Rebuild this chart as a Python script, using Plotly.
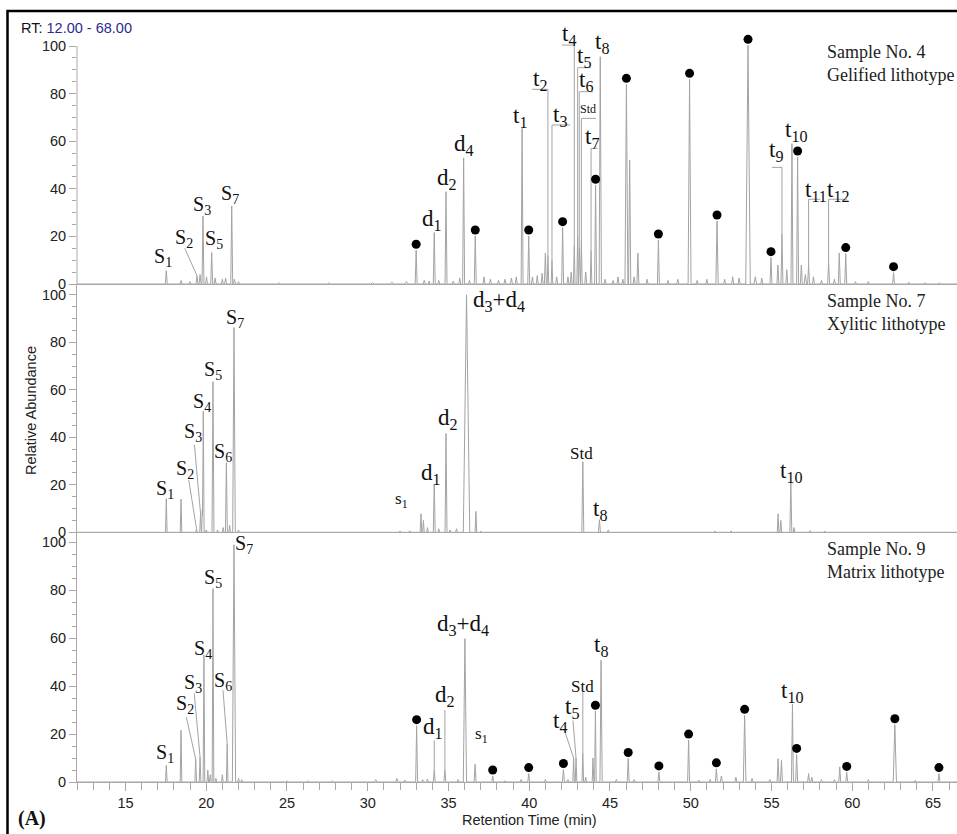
import numpy as np
import plotly.graph_objects as go

# ---------------- data (retention time [min], relative abundance, half-width [min]) -------------
s4_rt = [17.53, 18.45, 19.00, 19.43, 19.62, 19.80, 20.02, 20.34, 20.55, 21.00, 21.20, 21.58, 21.75, 22.00,
         24.50, 27.60, 30.30, 31.50, 32.40, 33.00, 33.50, 33.80, 34.12, 34.40, 34.85, 35.30, 35.70, 35.94,
         36.30, 36.66, 37.20, 37.60, 38.10, 38.50, 38.90, 39.20, 39.56, 39.97, 40.20, 40.50, 40.80, 41.00,
         41.16, 41.41, 41.70, 42.07, 42.40, 42.60, 42.79, 43.00, 43.10, 43.23, 43.50, 43.83, 44.11, 44.40,
         44.70, 45.20, 45.50, 45.80, 46.02, 46.22, 46.50, 46.73, 47.30, 48.00, 48.60, 49.20, 49.93, 50.40,
         51.00, 51.63, 52.10, 52.60, 53.00, 53.55, 54.00, 54.40, 54.97, 55.40, 55.65, 55.95, 56.27, 56.62,
         56.85, 57.10, 57.30, 57.60, 58.10, 58.54, 58.90, 59.20, 59.60, 60.20, 61.00, 62.56, 63.50, 64.50,
         65.40]
s4_h = [5.6, 1.5, 1.0, 3.5, 4.0, 28.6, 3.0, 13.2, 2.5, 2.0, 2.5, 32.8, 2.0, 1.0,
        0.5, 0.5, 0.6, 0.8, 1.0, 14.2, 1.5, 1.2, 21.6, 1.5, 38.8, 1.2, 2.5, 53.0,
        1.5, 20.2, 3.0, 2.0, 1.5, 2.0, 2.5, 3.0, 65.4, 20.2, 3.0, 3.5, 4.5, 13.0,
        12.0, 10.0, 3.0, 23.7, 3.0, 5.0, 16.0, 20.0, 15.0, 18.0, 5.0, 14.0, 41.5, 95.5,
        2.0, 1.5, 3.0, 2.0, 83.9, 52.0, 3.0, 13.0, 2.0, 18.5, 1.5, 2.0, 86.0, 1.5,
        2.0, 26.5, 2.0, 3.0, 2.5, 100.3, 3.0, 2.5, 11.1, 8.0, 21.0, 6.0, 59.0, 53.4,
        8.0, 4.0, 8.0, 3.0, 1.5, 9.0, 2.0, 13.0, 12.8, 1.0, 1.0, 4.8, 0.8, 0.5,
        0.5]
s4_w = [0.06] * 14 + [0.1] * 5 + [0.06] * 23 + [0.05, 0.05, 0.06, 0.06, 0.06, 0.06, 0.05, 0.05, 0.04,
        0.05, 0.06, 0.05, 0.06, 0.07, 0.06, 0.06, 0.06, 0.06, 0.09, 0.07, 0.06, 0.06, 0.06, 0.06,
        0.06, 0.06, 0.09, 0.06, 0.06, 0.07, 0.06, 0.06, 0.06, 0.14, 0.08] + [0.06] * 8 + [0.07] + [0.06] * 15
s4_dots = [33.00, 36.66, 39.97, 42.07, 44.11, 46.02, 48.00, 49.93, 51.63, 53.55, 54.97, 56.62, 59.60, 62.56]

s7_rt = [17.53, 18.44, 19.40, 19.65, 19.76, 19.82, 20.00, 20.42, 20.70, 21.05, 21.25, 21.45, 21.72, 22.00,
         32.00, 32.60, 33.30, 33.45, 33.70, 34.12, 34.40, 34.85, 35.10, 35.50, 36.12, 36.70, 37.00,
         43.32, 44.35, 44.90, 51.50, 52.50, 55.41, 55.58, 56.20, 56.40, 57.40, 58.30]
s7_h = [14.2, 14.0, 1.5, 8.0, 9.5, 51.0, 1.0, 63.4, 1.0, 2.0, 29.3, 3.0, 86.2, 1.0,
        0.5, 0.6, 7.8, 5.0, 2.0, 20.3, 1.5, 41.6, 1.0, 1.5, 100.0, 8.8, 0.5,
        29.7, 5.3, 1.0, 0.5, 0.5, 7.8, 5.0, 21.3, 2.0, 0.7, 0.5]
s7_w = [0.05, 0.05, 0.05, 0.05, 0.04, 0.05, 0.05, 0.06, 0.05, 0.05, 0.06, 0.05, 0.08, 0.05,
        0.08, 0.08, 0.05, 0.05, 0.05, 0.06, 0.06, 0.06, 0.06, 0.06, 0.20, 0.05, 0.05,
        0.06, 0.06, 0.06, 0.08, 0.08, 0.05, 0.05, 0.06, 0.05, 0.06, 0.06]
s7_dots = []

s9_rt = [17.53, 18.44, 19.35, 19.62, 19.86, 20.10, 20.25, 20.42, 20.60, 21.00, 21.30, 21.72, 22.00, 22.20,
         25.00, 26.30, 27.80, 30.50, 31.80, 32.30, 33.03, 33.40, 33.70, 34.12, 34.78, 35.60, 36.02, 36.65,
         37.74, 38.50, 39.50, 39.97, 41.00, 42.12, 42.40, 42.75, 42.90, 43.32, 43.50, 43.95, 44.10, 44.45,
         45.40, 46.13, 46.50, 48.03, 49.87, 50.50, 51.20, 51.59, 51.90, 52.80, 53.34, 53.80, 54.90, 55.41,
         55.62, 56.30, 56.56, 57.30, 57.50, 58.10, 58.90, 59.23, 59.66, 61.00, 62.64, 63.90, 65.37]
s9_h = [7.0, 21.6, 9.5, 10.5, 53.0, 5.0, 3.0, 80.7, 1.5, 3.0, 16.0, 99.0, 1.5, 1.0,
        0.4, 0.5, 0.5, 1.0, 1.5, 0.8, 23.5, 1.0, 1.2, 5.0, 5.0, 1.0, 59.8, 7.4,
        2.5, 0.5, 1.0, 3.5, 1.0, 5.2, 1.0, 10.0, 10.0, 12.0, 2.0, 10.0, 29.5, 50.8,
        1.0, 9.8, 1.0, 4.2, 17.5, 0.8, 1.0, 5.5, 2.5, 2.0, 27.8, 1.5, 1.0, 9.7,
        9.0, 32.4, 11.5, 3.5, 2.0, 1.0, 1.0, 6.3, 4.0, 1.0, 23.9, 0.7, 3.5]
s9_w = [0.05] * 11 + [0.10, 0.05, 0.05, 0.10, 0.10, 0.10, 0.08] + [0.06] * 8 + [0.10] + [0.06] * 8 + \
       [0.05] * 6 + [0.07] + [0.06] * 10 + [0.08] + [0.06] * 13 + [0.10, 0.06, 0.06]
s9_dots = [33.03, 37.74, 39.97, 42.12, 44.10, 46.13, 48.03, 49.87, 51.59, 53.34, 56.56, 59.66, 62.64, 65.37]

x_ticks = [15, 20, 25, 30, 35, 40, 45, 50, 55, 60, 65]
y_ticks = [0, 20, 40, 60, 80, 100]
y_minor = [v for v in range(0, 101, 5) if v % 20]

samples = [
    ("Sample No. 4<br>Gelified lithotype", s4_rt, s4_h, s4_w, s4_dots),
    ("Sample No. 7<br>Xylitic lithotype", s7_rt, s7_h, s7_w, s7_dots),
    ("Sample No. 9<br>Matrix lithotype", s9_rt, s9_h, s9_w, s9_dots),
]

# peak labels: (panel, text, x, y, font size, leader path)
def sub(letter, idx):
    return f"{letter}<sub>{idx}</sub>"

labels = [
    (0, sub("S", 1), 17.35, 11.3, 20, None),
    (0, sub("S", 2), 18.60, 19.3, 20, [(18.67, 15.0), (19.43, 3.5)]),
    (0, sub("S", 3), 19.75, 32.8, 20, None),
    (0, sub("S", 5), 20.50, 18.8, 20, None),
    (0, sub("S", 7), 21.45, 37.6, 20, None),
    (0, sub("d", 1), 34.00, 27.0, 23, None),
    (0, sub("d", 2), 34.90, 44.0, 23, None),
    (0, sub("d", 4), 35.94, 58.6, 23, None),
    (0, sub("t", 1), 39.45, 70.0, 23, None),
    (0, sub("t", 2), 40.64, 85.6, 23, [(40.17, 81.8), (41.16, 81.8), (41.16, 12.0)]),
    (0, sub("t", 3), 41.88, 70.6, 23, [(42.54, 66.8), (41.41, 66.8), (41.41, 10.0)]),
    (0, sub("t", 4), 42.44, 104.8, 23, [(42.03, 100.4), (42.79, 100.4), (42.79, 16.0)]),
    (0, sub("t", 5), 43.41, 95.4, 23, [(43.83, 90.9), (43.00, 90.9), (43.00, 20.0)]),
    (0, sub("t", 6), 43.54, 85.2, 23, [(43.95, 80.8), (43.10, 80.8), (43.10, 15.0)]),
    (0, "Std", 43.62, 73.6, 12, [(44.14, 69.6), (43.23, 69.6), (43.23, 18.0)]),
    (0, sub("t", 7), 43.89, 61.4, 23, [(44.24, 57.0), (43.83, 57.0), (43.83, 14.0)]),
    (0, sub("t", 8), 44.48, 101.3, 23, None),
    (0, sub("t", 9), 55.30, 55.8, 23, [(55.03, 49.0), (55.65, 49.0), (55.65, 21.0)]),
    (0, sub("t", 10), 56.55, 64.2, 23, None),
    (0, sub("t", 11), 57.75, 39.0, 23, [(58.02, 35.6), (57.30, 35.6), (57.30, 8.0)]),
    (0, sub("t", 12), 59.10, 39.0, 23, [(59.68, 35.6), (58.54, 35.6), (58.54, 9.0)]),

    (1, sub("S", 1), 17.47, 18.2, 20, None),
    (1, sub("S", 2), 18.71, 26.3, 20, [(18.92, 22.0), (19.40, 1.5)]),
    (1, sub("S", 3), 19.18, 41.9, 20, [(19.27, 36.8), (19.65, 8.0)]),
    (1, sub("S", 4), 19.74, 54.8, 20, None),
    (1, sub("S", 5), 20.42, 68.2, 20, None),
    (1, sub("S", 6), 21.04, 33.7, 20, None),
    (1, sub("S", 7), 21.80, 89.9, 20, None),
    (1, sub("s", 1), 32.12, 13.8, 17, None),
    (1, sub("d", 1), 33.92, 24.7, 23, None),
    (1, sub("d", 2), 35.00, 47.8, 23, None),
    (1, sub("d", 3) + "+" + sub("d", 4), 38.15, 97.3, 23, None),
    (1, "Std", 43.26, 33.3, 17, None),
    (1, sub("t", 8), 44.40, 9.6, 23, None),
    (1, sub("t", 10), 56.20, 25.3, 23, None),

    (2, sub("S", 1), 17.47, 12.0, 20, None),
    (2, sub("S", 2), 18.67, 32.2, 20, [(18.77, 27.1), (19.35, 9.5)]),
    (2, sub("S", 3), 19.18, 41.2, 20, [(19.26, 36.9), (19.62, 10.5)]),
    (2, sub("S", 4), 19.78, 55.2, 20, None),
    (2, sub("S", 5), 20.43, 85.1, 20, None),
    (2, sub("S", 6), 21.04, 41.9, 20, [(21.04, 38.3), (21.30, 16.0)]),
    (2, sub("S", 7), 22.33, 99.0, 20, None),
    (2, sub("d", 1), 34.07, 22.5, 23, [(34.12, 17.4), (34.12, 5.0)]),
    (2, sub("d", 2), 34.80, 35.7, 23, [(34.78, 30.0), (34.78, 5.0)]),
    (2, sub("d", 3) + "+" + sub("d", 4), 35.90, 65.6, 23, None),
    (2, sub("s", 1), 37.05, 19.7, 17, None),
    (2, sub("t", 4), 41.89, 25.2, 23, [(42.18, 21.6), (42.75, 10.0)]),
    (2, sub("t", 5), 42.65, 30.8, 23, [(42.71, 25.7), (42.90, 10.0)]),
    (2, "Std", 43.27, 40.0, 17, [(43.32, 37.5), (43.32, 12.0)]),
    (2, sub("t", 8), 44.42, 56.8, 23, None),
    (2, sub("t", 10), 56.30, 37.7, 23, None),
]

# ---------------- geometry (pixels -> paper) ----------------
W, H = 957, 834
ML, MR, MT, MB = 77, 0, 18, 52
PW, PH = W - ML - MR, H - MT - MB
def px_x(px):
    return (px - ML) / PW
def px_y(py):
    return (H - MB - py) / PH

dom = [(px_y(284), 1.0), (px_y(532.3), px_y(284)), (0.0, px_y(532.3))]
yr = [(0, (284 - MT) / 2.38), (0, 104.55), (0, 104.17)]
xrange_ = [12, 12 + PW / 16.15]
dot_off = [2.5, 2.5, 2.5]

GRAY = "#a3a3a3"
AXIS = "#a8a8a8"
SANS = "Liberation Sans, Arial, sans-serif"
SERIF = "Liberation Serif, Times New Roman, serif"
TXT = 14.5

def chrom(rt, h, w):
    xs = {xrange_[0], xrange_[1]}
    for r, ww in zip(rt, w):
        xs.update([r - ww, r, r + ww])
    xs = np.array(sorted(xs))
    ys = np.zeros_like(xs)
    for r, hh, ww in zip(rt, h, w):
        ys += np.clip(hh * (1 - np.abs(xs - r) / ww), 0, None)
    return xs, ys

fig = go.Figure()
for i, (title, rt, h, w, dots) in enumerate(samples):
    xa = "x" if i == 0 else f"x{i + 1}"
    ya = "y" if i == 0 else f"y{i + 1}"
    xs, ys = chrom(rt, h, w)
    fig.add_trace(go.Scatter(x=xs, y=ys, mode="lines", line=dict(color=GRAY, width=1),
                             xaxis=xa, yaxis=ya, hoverinfo="skip", cliponaxis=False, showlegend=False))
    # leader lines
    lx, ly = [], []
    for (p, txt, x, y, fs, path) in labels:
        if p == i and path:
            for (a, b) in path:
                lx.append(a); ly.append(b)
            lx.append(None); ly.append(None)
    if lx:
        fig.add_trace(go.Scatter(x=lx, y=ly, mode="lines", line=dict(color=GRAY, width=1),
                                 xaxis=xa, yaxis=ya, hoverinfo="skip", cliponaxis=False, showlegend=False))
    if dots:
        dy = [h[rt.index(d)] + dot_off[i] for d in dots]
        fig.add_trace(go.Scatter(x=dots, y=dy, mode="markers", marker=dict(color="black", size=9),
                                 xaxis=xa, yaxis=ya, cliponaxis=False, showlegend=False))
    # sample text
    fig.add_annotation(x=58.33, y=92.5, xref=xa, yref=ya, text=title, showarrow=False,
                       xanchor="left", yanchor="middle", align="left",
                       font=dict(family=SERIF, size=18, color="#222"))

    common_x = dict(domain=[0, 1], range=xrange_, anchor=ya, showline=True, linecolor=AXIS, linewidth=1,
                    showgrid=False, zeroline=False, fixedrange=True)
    if i < 2:
        common_x.update(ticks="", showticklabels=False)
    else:
        common_x.update(ticks="outside", ticklen=8, tickcolor=AXIS, tickvals=x_ticks,
                        tickfont=dict(family=SANS, size=TXT, color="#222"),
                        minor=dict(ticks="outside", ticklen=7, dtick=1, tick0=12, tickcolor=AXIS))
    common_y = dict(domain=list(dom[i]), range=list(yr[i]), anchor=xa, showline=(i > 0), linecolor=AXIS,
                    linewidth=1, showgrid=False, zeroline=False, ticks="outside", ticklen=7, tickcolor=AXIS,
                    tickmode="array", tickvals=y_ticks, tickfont=dict(family=SANS, size=TXT, color="#222"),
                    minor=dict(ticks="outside", ticklen=4, tickmode="array", tickvals=y_minor, tickcolor=AXIS))
    fig.update_layout(**{("xaxis" if i == 0 else f"xaxis{i + 1}"): common_x,
                         ("yaxis" if i == 0 else f"yaxis{i + 1}"): common_y})

# y axis line of the top panel, only from 0 to 100
fig.add_shape(type="line", xref="paper", yref="y", x0=0, x1=0, y0=0, y1=100,
              line=dict(color=AXIS, width=1), layer="above")

for (p, txt, x, y, fs, path) in labels:
    ya = "y" if p == 0 else f"y{p + 1}"
    fig.add_annotation(x=x, y=y, xref="x", yref=ya, text=txt, showarrow=False,
                       xanchor="center", yanchor="middle", font=dict(family=SERIF, size=fs, color="#111"))

# global texts
fig.add_annotation(xref="paper", yref="paper", x=px_x(19), y=px_y(28), xanchor="left", yanchor="middle",
                   text="RT: <span style='color:#2b2b8f'>12.00 - 68.00</span>", showarrow=False,
                   font=dict(family=SANS, size=TXT, color="#111"))
fig.add_annotation(xref="paper", yref="paper", x=px_x(31), y=px_y(411), textangle=-90, showarrow=False,
                   xanchor="center", yanchor="middle",
                   text="Relative Abundance", font=dict(family=SANS, size=TXT, color="#222"))
fig.add_annotation(xref="paper", yref="paper", x=px_x(529), y=px_y(820), showarrow=False,
                   xanchor="center", yanchor="middle",
                   text="Retention Time (min)", font=dict(family=SANS, size=TXT, color="#222"))
fig.add_annotation(xref="paper", yref="paper", x=px_x(32), y=px_y(818), showarrow=False,
                   xanchor="center", yanchor="middle",
                   text="<b>(A)</b>", font=dict(family=SERIF, size=20, color="#111"))
fig.add_shape(type="rect", xref="paper", yref="paper", x0=px_x(7.5), x1=px_x(975), y0=px_y(860), y1=px_y(11),
              line=dict(color="black", width=2.5), layer="above")

fig.update_layout(width=W, height=H, margin=dict(l=ML, r=MR, t=MT, b=MB),
                  plot_bgcolor="white", paper_bgcolor="white", showlegend=False)
fig.write_html("out.html", config={"displayModeBar": False},
               post_script="document.body.style.margin='0px';document.body.style.overflow='hidden';")
